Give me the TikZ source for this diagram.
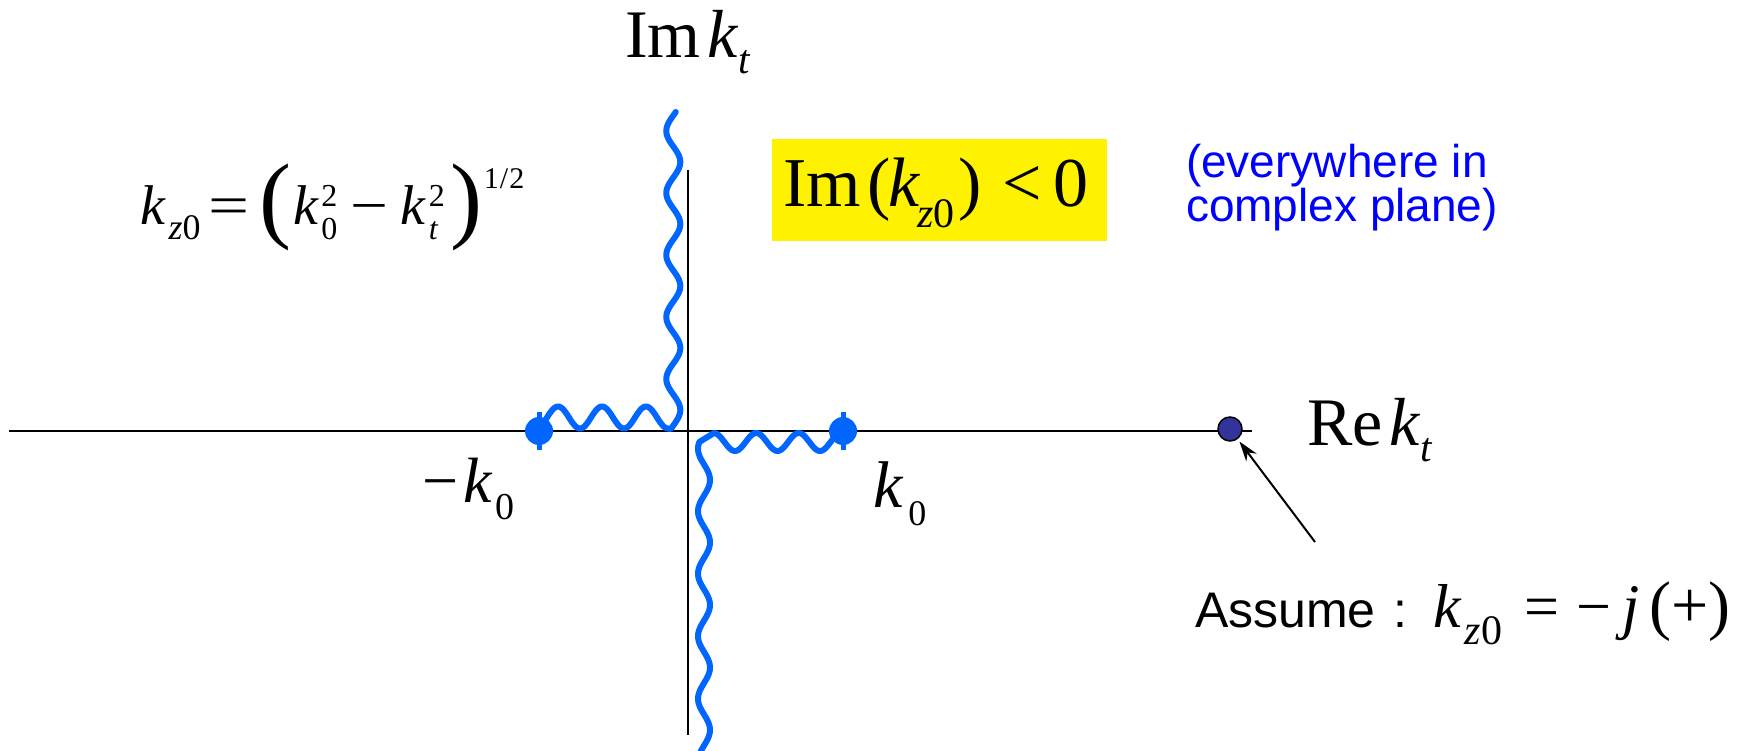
\documentclass[tikz,border=0pt]{standalone}
\usepackage{fontspec}
\setmainfont{Liberation Serif}
\newfontfamily\arialfont{Liberation Sans}
\usetikzlibrary{arrows.meta}
\definecolor{cutblue}{HTML}{0066FF}
\definecolor{dotblue}{HTML}{333399}
\definecolor{txtblue}{HTML}{0000FF}
\tikzset{
  lbl/.style={inner sep=0pt, outer sep=0pt, anchor=base west},
  axisline/.style={line width=2.5pt, black},
  cutline/.style={line width=6pt, cutblue, line cap=round, line join=round},
  bdot/.style={circle, fill=cutblue, minimum size=28pt, inner sep=0pt},
  tickline/.style={line width=5pt, cutblue},
  pdot/.style={circle, fill=dotblue, draw=black, line width=1.5pt, minimum size=24pt, inner sep=0pt},
}
\newcommand{\fs}[1]{\fontsize{#1}{#1}\selectfont}
% stacked superscript/subscript as one box
\newcommand{\supsub}[2]{\raisebox{-15pt}{\fs{32}\vbox{\baselineskip=33pt\lineskiplimit=-40pt\hbox{#1}\hbox{#2}}}}
\begin{document}
\begin{tikzpicture}[x=1pt,y=-1pt]
\useasboundingbox (0,0) rectangle (1743,751);
% axes
\coordinate (xl) at (9,431);
\coordinate (xr) at (1252,431);
\coordinate (yt) at (688,170);
\coordinate (yb) at (688,735);
\draw[axisline] (xl) -- (xr);
\draw[axisline] (yt) -- (yb);
% branch cuts
\draw[cutline] plot[domain=539:668,samples=90] (\x,{417.5-11*cos(8.1818*(\x-558))})
  -- plot[domain=429:112,samples=160] ({673.3+7*cos(5.8065*(\x-410))},\x);
\draw[cutline] plot[domain=843:714,samples=90] (\x,{442+9*cos(8.4706*(\x-735))})
  -- plot[domain=442:760,samples=160] ({704+6*cos(5.76*(\x-480))},\x);
% branch points
\node[bdot] (mk0) at (539,431) {};
\node[bdot] (pk0) at (843,431) {};
\draw[tickline] ([yshift=19pt]mk0.center) -- ([yshift=-19pt]mk0.center);
\draw[tickline] ([yshift=19pt]pk0.center) -- ([yshift=-19pt]pk0.center);
% point on the real axis
\node[pdot] (rdot) at (1230,429) {};
\coordinate (atail) at (1315,542);
\draw[line width=2pt, -{Stealth[length=20pt,width=13pt]}, shorten >=3pt] (atail) -- (rdot);
% axis labels
\node[lbl] (imlab) at (625,58) {\fs{68}Im\hspace{7pt}\textit{k}\raisebox{-16pt}{\fs{41}\textit{t}}};
\node[lbl] (relab) at (1307,445) {\fs{68}Re\hspace{7pt}\textit{k}\raisebox{-16pt}{\fs{41}\textit{t}}};
\node[lbl] (mk0lab) at (422,502) {\fs{64}\char"2212\hspace{5pt}\textit{k}\hspace{3pt}\raisebox{-17pt}{\fs{38}0}};
\node[lbl] (pk0lab) at (873,507) {\fs{66}\textit{k}\hspace{5pt}\raisebox{-18pt}{\fs{36}0}};
% formula
\node[lbl] (formula) at (140,225) {\fs{56}\textit{k}\hspace{3pt}\raisebox{-15pt}{\fs{36}\textit{z}0}\hspace{8pt}\scalebox{1.3}[1]{=}\hspace{10pt}\raisebox{-6pt}{\fs{96}(}\hspace{2pt}\textit{k}\hspace{2pt}\supsub{2}{0}\hspace{13pt}\scalebox{1.2}[1]{\char"2212}\hspace{12pt}\textit{k}\hspace{3pt}\supsub{2}{\textit{t}}\hspace{6pt}\raisebox{-6pt}{\fs{96})}\hspace{1pt}\raisebox{36pt}{\fs{30}1\hspace{1pt}/\hspace{1pt}2}};
% yellow box
\node[fill=yellow, inner sep=0pt, minimum width=335pt, minimum height=102pt, anchor=north west] (ybox) at (772,139) {};
\node[lbl] (ytext) at (783,207) {\fs{70}Im\hspace{7pt}(\hspace{-3pt}\textit{k}\hspace{-3pt}\raisebox{-21pt}{\fs{42}\textit{z}0}\hspace{4pt})\hspace{21pt}<\hspace{11pt}0};
% blue note
\node[lbl, text=txtblue] (note1) at (1186,178) {\arialfont\fs{46}(everywhere in};
\node[lbl, text=txtblue] (note2) at (1186,222) {\arialfont\fs{46}complex plane)};
% assumption
\node[lbl] (assume) at (1195,627) {{\arialfont\fs{50}Assume\hspace{18pt}:}\hspace{26pt}\fs{62}\textit{k}\hspace{3pt}\raisebox{-17pt}{\fs{42}\textit{z}0}\hspace{22pt}=\hspace{17pt}\char"2212\hspace{11pt}\textit{j}\hspace{10pt}{\fs{66}(+)}};
\end{tikzpicture}
\end{document}
